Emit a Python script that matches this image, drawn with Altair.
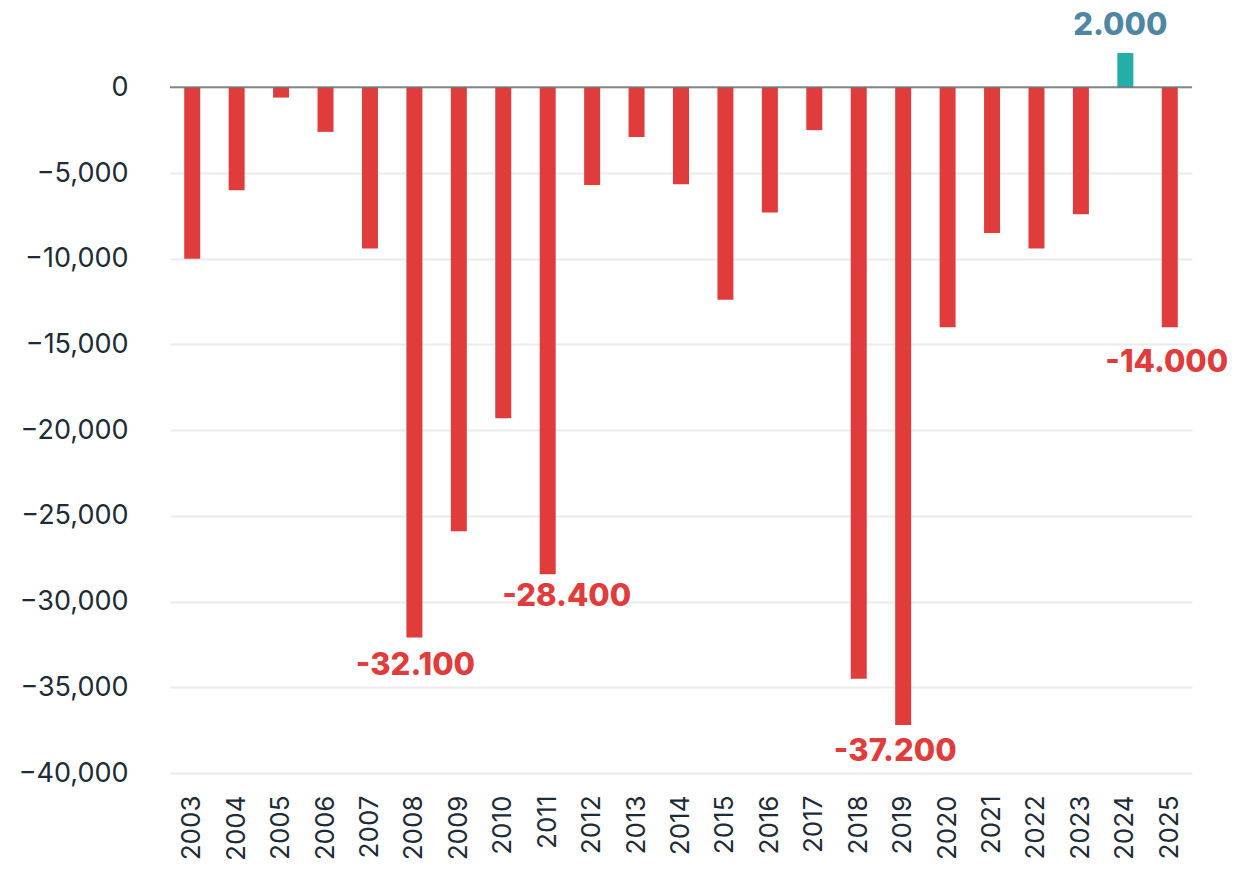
import altair as alt
import pandas as pd

years = [str(y) for y in range(2003, 2026)]
values = [-10000, -6000, -600, -2600, -9400, -32100, -25900, -19300, -28400, -5700,
          -2900, -5650, -12400, -7300, -2500, -34500, -37200, -14000, -8500, -9400,
          -7400, 2000, -14000]
ticks = [0, -5000, -10000, -15000, -20000, -25000, -30000, -35000, -40000]

label_years = ["2008", "2011", "2019", "2025", "2024"]
label_texts = ["-32.100", "-28.400", "-37.200", "-14.000", "2.000"]

df = pd.DataFrame({"year": years, "value": values})
df["sign"] = ["pos" if v > 0 else "neg" for v in values]

RED = "#e03c3c"
TEAL = "#23aea9"
BLUE = "#4f87a3"
TXT = "#1d2b36"

x = alt.X("year:N", sort=years, title=None,
          scale=alt.Scale(paddingInner=0, paddingOuter=0),
          axis=alt.Axis(labelAngle=-90, labelFontSize=26, labelFont="Inter",
                        labelColor=TXT, ticks=False, domain=False, labelPadding=22,
                        grid=False))
y = alt.Y("value:Q", title=None,
          scale=alt.Scale(domain=[-40000, 2000], nice=False, zero=False),
          axis=alt.Axis(values=ticks, format=",.0f", labelFontSize=27, labelFont="Inter",
                        labelColor=TXT, ticks=False, domain=False, labelPadding=42,
                        gridColor="#ebebeb", gridWidth=2))

bars = alt.Chart(df).mark_bar(size=16).encode(
    x=x, y=y,
    color=alt.Color("sign:N", scale=alt.Scale(domain=["neg", "pos"], range=[RED, TEAL]),
                    legend=None),
)

zero = alt.Chart(pd.DataFrame({"value": [0]})).mark_rule(color="#6f767a", strokeWidth=2,
                                                          opacity=0.85).encode(y=y)

border = alt.Chart(pd.DataFrame({"v": [0]})).mark_rule(color="#efefef", strokeWidth=3).encode(
    x=alt.value(-168), y=alt.value(-60), y2=alt.value(820))

offsets = {"2008": (1, 28), "2011": (19, 23), "2019": (-8, 27), "2025": (-3, 36), "2024": (-5, -27)}
layers = [border, bars, zero]
for yr, txt in zip(label_years, label_texts):
    v = values[years.index(yr)]
    d = pd.DataFrame({"year": [yr], "value": [v], "label": [txt]})
    dx, dy = offsets[yr]
    col = BLUE if v > 0 else RED
    layers.append(alt.Chart(d).mark_text(font="Inter", fontSize=31, fontWeight=800,
                                         color=col, dx=dx, dy=dy, baseline="middle",
                                         align="center").encode(
        x=x, y=y, text="label:N"))

chart = alt.layer(*layers).properties(
    width=1022, height=720,
    background="white",
    autosize=alt.AutoSizeParams(type="none"),
    padding={"left": 162, "top": 45, "right": 35, "bottom": 90},
).configure_view(strokeWidth=0, stroke="transparent")

chart.save("out.html", embed_options={"renderer": "svg", "actions": False})
